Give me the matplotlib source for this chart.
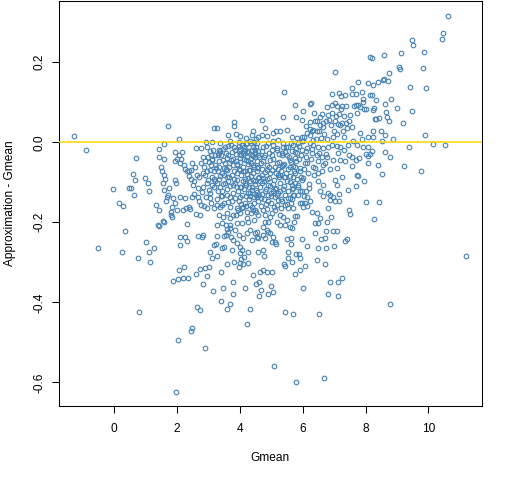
import matplotlib
matplotlib.use("Agg")
import matplotlib.pyplot as plt

plt.rcParams["font.family"] = ["Liberation Sans", "DejaVu Sans"]

# (Gmean, Approximation - Gmean), grouped by area

outer_left = [(-1.27, 0.015), (-0.89, -0.020), (0.70, -0.039), (-0.03, -0.118), (0.16, -0.152),
              (0.29, -0.158), (0.35, -0.222), (0.48, -0.115), (0.52, -0.115), (0.61, -0.080),
              (0.67, -0.095), (0.64, -0.133), (-0.51, -0.263), (0.25, -0.275), (0.76, -0.290),
              (0.80, -0.425), (1.01, -0.250), (1.11, -0.275), (1.15, -0.300), (1.27, -0.263)]

outer_bottom = [(2.48, -0.463), (2.45, -0.472), (2.04, -0.494), (2.90, -0.513), (1.97, -0.623),
                (4.24, -0.455), (2.90, -0.313), (2.74, -0.420), (3.76, -0.268)]

upper_right = [(10.64, 0.315), (10.48, 0.273), (10.45, 0.258), (9.49, 0.255), (9.52, 0.243),
               (8.15, 0.213), (8.22, 0.210), (8.60, 0.218), (9.14, 0.223), (9.87, 0.225),
               (7.04, 0.175), (9.06, 0.187), (9.09, 0.184), (8.76, 0.173), (9.84, 0.185),
               (7.77, 0.150), (8.09, 0.148), (8.25, 0.143), (8.40, 0.151), (8.55, 0.156),
               (8.60, 0.158), (8.73, 0.153), (9.43, 0.138), (9.94, 0.135), (5.41, 0.125),
               (7.56, 0.135), (7.89, 0.125), (8.14, 0.118), (8.20, 0.118), (6.94, 0.120),
               (7.15, 0.123), (7.21, 0.115), (7.36, 0.117), (7.56, 0.120), (7.70, 0.120),
               (8.82, 0.108), (8.63, 0.095), (9.01, 0.085), (9.49, 0.078), (8.34, 0.106),
               (7.91, 0.109), (7.93, 0.100), (6.26, 0.098), (6.24, 0.095), (5.76, 0.093),
               (6.77, 0.089), (6.94, 0.093), (7.02, 0.098), (7.10, 0.091), (7.25, 0.091),
               (7.38, 0.090), (7.63, 0.090), (7.70, 0.093), (7.76, 0.093), (7.82, 0.088),
               (7.96, 0.083), (8.02, 0.082), (8.24, 0.081), (8.26, 0.085), (8.29, 0.059),
               (8.33, 0.059), (8.42, 0.060), (8.65, 0.075), (8.68, 0.064), (8.74, 0.053),
               (9.19, 0.048), (9.90, 0.018), (9.39, -0.012), (10.16, -0.004), (10.54, -0.008),
               (9.24, -0.059), (9.77, -0.073), (8.79, -0.037), (8.63, -0.025), (8.54, -0.079),
               (8.41, -0.057), (8.89, 0.008), (8.50, 0.028), (8.63, 0.018), (8.54, 0.003),
               (8.24, 0.028), (8.23, 0.013), (8.09, 0.013), (8.15, -0.029), (8.09, -0.034),
               (8.08, -0.053), (8.03, -0.149), (8.44, -0.149), (8.28, -0.192), (7.48, -0.169),
               (7.50, -0.180), (7.96, -0.097), (7.76, -0.084), (7.72, -0.082), (7.71, -0.109),
               (7.58, -0.059)]

upper_left = [(1.72, 0.040), (3.18, 0.035), (3.28, 0.035), (3.82, 0.050), (3.82, 0.040),
              (2.05, 0.008), (3.63, 0.018), (3.87, 0.020), (4.01, 0.015), (4.21, 0.010),
              (4.40, 0.018), (4.43, 0.028), (4.50, 0.008), (4.59, 0.014), (2.91, 0.000),
              (3.12, 0.000), (1.59, -0.005), (3.70, 0.003), (3.98, 0.000), (4.22, -0.002),
              (4.32, 0.002), (4.54, -0.001), (2.61, -0.015), (2.75, -0.015), (2.95, -0.011),
              (3.32, -0.020), (3.47, -0.017), (3.82, -0.012), (3.97, -0.010), (4.07, -0.007),
              (4.21, -0.005), (4.35, -0.002), (4.45, 0.000), (4.43, -0.012), (4.00, -0.017),
              (4.13, -0.021), (4.27, -0.023), (4.48, -0.019), (1.43, -0.017), (1.92, -0.025),
              (2.17, -0.025), (2.07, -0.031), (1.59, -0.042), (1.42, -0.037), (1.99, -0.042),
              (2.14, -0.042), (1.93, -0.047), (2.84, -0.037), (2.97, -0.037), (3.07, -0.032),
              (3.11, -0.041), (3.30, -0.032), (3.37, -0.022), (3.33, -0.027), (3.56, -0.027),
              (3.63, -0.032), (3.74, -0.025), (3.87, -0.030), (3.97, -0.022), (4.11, -0.027),
              (4.24, -0.025), (4.39, -0.020), (4.52, -0.012), (3.58, -0.040), (3.79, -0.042),
              (4.00, -0.040), (4.22, -0.036), (4.43, -0.034), (4.59, -0.031), (2.09, -0.052),
              (2.23, -0.056), (2.25, -0.067), (2.38, -0.073), (2.56, -0.061), (2.76, -0.052),
              (2.89, -0.046), (3.03, -0.050), (3.11, -0.045), (3.21, -0.057), (3.33, -0.048),
              (3.45, -0.044), (1.48, -0.062), (1.53, -0.072), (1.57, -0.081), (2.30, -0.073),
              (2.43, -0.069), (2.38, -0.084), (2.44, -0.092), (2.70, -0.086), (2.84, -0.077),
              (2.96, -0.073), (3.05, -0.069), (3.18, -0.073), (3.31, -0.073), (3.42, -0.077),
              (3.49, -0.065), (3.58, -0.069), (3.66, -0.061), (3.79, -0.056), (3.90, -0.054),
              (4.00, -0.049), (4.14, -0.042), (4.26, -0.048), (4.35, -0.039), (4.48, -0.036),
              (4.41, -0.056), (4.54, -0.048), (4.59, -0.061), (4.32, -0.069), (4.16, -0.073),
              (4.00, -0.069), (3.90, -0.077), (3.74, -0.081), (3.58, -0.086), (3.37, -0.084),
              (1.60, -0.092), (1.56, -0.102), (1.75, -0.115), (1.59, -0.119), (1.72, -0.131),
              (0.99, -0.090), (1.08, -0.102), (1.12, -0.122), (1.92, -0.094), (1.97, -0.101),
              (2.54, -0.098), (2.52, -0.106), (2.68, -0.115), (2.84, -0.111), (2.94, -0.102),
              (3.10, -0.106), (3.21, -0.098), (3.37, -0.111), (3.53, -0.102), (3.63, -0.098),
              (3.79, -0.106), (3.90, -0.094), (4.00, -0.111), (4.16, -0.102), (4.27, -0.090),
              (4.38, -0.111), (4.48, -0.098), (4.59, -0.090), (1.67, -0.137), (1.88, -0.140),
              (2.09, -0.137), (2.25, -0.140), (2.46, -0.136), (2.68, -0.137), (3.05, -0.140),
              (3.42, -0.134), (3.69, -0.136), (4.00, -0.137), (4.32, -0.134), (4.54, -0.136)]

upper_mid = [(6.02, 0.077), (5.79, 0.063), (5.38, 0.063), (4.72, 0.055), (5.97, 0.056),
             (6.09, 0.040), (6.23, 0.050), (6.39, 0.054), (6.36, 0.073), (6.63, 0.070),
             (6.82, 0.068), (6.92, 0.073), (7.17, 0.070), (7.72, 0.073), (7.51, 0.069),
             (7.30, 0.066), (7.03, 0.052), (7.11, 0.046), (7.19, 0.044), (7.24, 0.048),
             (7.37, 0.049), (7.56, 0.039), (7.42, 0.035), (7.27, 0.029), (7.10, 0.021),
             (7.00, 0.029), (6.89, 0.044), (6.74, 0.052), (6.66, 0.048), (6.55, 0.044),
             (6.45, 0.052), (6.34, 0.031), (6.53, 0.029), (6.29, 0.027), (6.13, 0.023),
             (5.97, 0.014), (5.81, 0.010), (5.65, 0.014), (5.49, 0.031), (5.28, 0.027),
             (5.15, 0.029), (5.06, 0.023), (4.85, 0.016), (4.80, 0.035), (4.69, 0.019),
             (7.83, 0.024), (7.88, 0.008), (7.61, 0.002), (7.45, -0.006), (7.72, -0.006),
             (7.93, -0.012), (8.09, -0.012), (8.20, -0.021), (8.02, -0.029), (7.79, -0.040),
             (7.69, -0.044), (7.56, -0.036), (7.49, -0.031), (7.30, -0.019), (7.19, -0.011),
             (7.08, -0.009), (6.92, -0.006), (6.82, -0.011), (6.66, -0.015), (6.50, -0.011),
             (6.34, -0.006), (6.23, -0.002), (6.02, 0.002), (5.86, -0.002), (5.70, -0.006),
             (5.54, -0.011), (5.38, -0.002), (5.22, 0.006), (5.06, 0.002), (4.91, -0.002),
             (4.75, -0.011), (4.69, -0.023), (4.80, -0.031), (5.01, -0.019), (5.17, -0.015),
             (5.33, -0.027), (5.49, -0.031), (5.65, -0.023), (5.81, -0.027), (5.97, -0.019),
             (6.13, -0.015), (6.29, -0.027), (6.45, -0.031), (6.60, -0.036), (6.76, -0.036),
             (6.98, -0.044), (7.19, -0.044), (7.35, -0.048), (7.08, -0.065), (6.87, -0.067),
             (7.24, -0.086), (4.96, -0.044), (5.17, -0.052), (5.38, -0.056), (5.60, -0.044),
             (5.76, -0.061), (5.91, -0.073), (6.13, -0.052), (6.34, -0.061), (6.50, -0.077),
             (6.66, -0.056), (6.02, -0.090), (5.70, -0.086), (5.28, -0.081), (4.85, -0.069),
             (4.75, -0.090)]

lower_left = [(1.34, -0.156), (1.42, -0.169), (1.65, -0.148), (1.83, -0.161), (1.81, -0.175),
              (1.92, -0.152), (2.01, -0.169), (2.20, -0.169), (2.29, -0.165), (2.42, -0.167),
              (2.39, -0.161), (2.59, -0.179), (2.73, -0.181), (2.76, -0.156), (2.87, -0.159),
              (2.95, -0.165), (3.07, -0.152), (3.18, -0.165), (3.28, -0.156), (3.37, -0.161),
              (3.43, -0.156), (3.32, -0.181), (3.47, -0.186), (3.60, -0.177), (3.69, -0.190),
              (3.79, -0.181), (3.90, -0.165), (4.00, -0.177), (4.11, -0.161), (4.22, -0.173),
              (4.32, -0.156), (4.48, -0.169), (4.59, -0.181), (4.45, -0.194), (4.27, -0.198),
              (4.06, -0.202), (3.90, -0.202), (3.69, -0.206), (3.56, -0.206), (3.42, -0.201),
              (3.26, -0.206), (1.40, -0.206), (1.43, -0.210), (1.55, -0.196), (1.58, -0.199),
              (1.81, -0.181), (1.85, -0.186), (2.33, -0.204), (2.10, -0.237), (2.26, -0.237),
              (2.10, -0.257), (2.33, -0.247), (2.68, -0.234), (2.79, -0.236), (2.84, -0.232),
              (3.05, -0.275), (3.10, -0.289), (3.28, -0.284), (3.19, -0.257), (3.23, -0.255),
              (3.27, -0.235), (3.42, -0.265), (3.50, -0.262), (3.48, -0.235), (3.55, -0.232),
              (3.63, -0.223), (3.71, -0.236), (3.79, -0.244), (3.90, -0.252), (4.00, -0.261),
              (4.06, -0.269), (4.00, -0.277), (4.13, -0.286), (4.27, -0.273), (4.38, -0.244),
              (4.48, -0.227), (4.54, -0.236), (4.59, -0.240), (4.32, -0.219), (4.22, -0.227),
              (4.11, -0.240), (3.97, -0.231), (3.84, -0.219), (3.69, -0.215), (3.60, -0.217),
              (4.04, -0.292), (4.00, -0.302), (3.82, -0.300), (3.96, -0.311), (4.11, -0.304),
              (4.27, -0.302), (4.56, -0.225), (4.43, -0.331), (4.51, -0.353), (3.60, -0.305),
              (3.41, -0.325), (2.96, -0.335), (3.03, -0.311), (2.73, -0.317), (2.61, -0.330),
              (2.36, -0.340), (2.19, -0.340), (2.04, -0.342), (1.88, -0.347), (2.07, -0.320),
              (2.23, -0.312), (2.84, -0.355), (3.15, -0.372), (3.47, -0.365), (3.41, -0.397),
              (3.69, -0.405), (3.79, -0.380), (3.79, -0.350), (4.15, -0.365), (4.32, -0.417),
              (2.64, -0.412), (3.60, -0.417)]

lower_mid = [(7.04, -0.095), (7.08, -0.107), (7.17, -0.129), (7.17, -0.146), (7.02, -0.146),
             (6.87, -0.144), (6.87, -0.131), (6.96, -0.137), (6.82, -0.127), (6.66, -0.107),
             (6.50, -0.098), (6.55, -0.123), (6.66, -0.134), (6.82, -0.165), (6.90, -0.187),
             (6.76, -0.198), (6.50, -0.201), (6.39, -0.201), (6.55, -0.190), (6.47, -0.177),
             (6.31, -0.173), (6.23, -0.148), (6.13, -0.159), (6.07, -0.152), (5.97, -0.152),
             (5.91, -0.152), (6.00, -0.162), (6.15, -0.136), (6.21, -0.115), (6.09, -0.123),
             (6.04, -0.134), (5.97, -0.123), (5.86, -0.107), (5.76, -0.102), (5.70, -0.115),
             (5.70, -0.131), (5.60, -0.140), (5.62, -0.152), (5.68, -0.165), (5.54, -0.165),
             (5.44, -0.156), (5.33, -0.148), (5.22, -0.144), (5.17, -0.156), (5.12, -0.169),
             (5.01, -0.177), (4.96, -0.186), (4.91, -0.198), (4.80, -0.181), (4.80, -0.198),
             (4.75, -0.211), (4.85, -0.219), (4.96, -0.227), (5.06, -0.236), (5.12, -0.248),
             (4.91, -0.223), (4.75, -0.231), (4.80, -0.240), (5.76, -0.184), (5.81, -0.184),
             (5.72, -0.198), (5.49, -0.194), (5.44, -0.206), (5.28, -0.206), (5.17, -0.198),
             (5.28, -0.181), (5.38, -0.186), (5.60, -0.211), (5.67, -0.215), (5.99, -0.242),
             (5.64, -0.240), (5.51, -0.242), (6.39, -0.227), (6.74, -0.222), (6.98, -0.222),
             (7.10, -0.222), (6.59, -0.242), (6.72, -0.240), (7.45, -0.120), (7.40, -0.242)]

lower_far = [(11.21, -0.285), (8.79, -0.405), (6.69, -0.588), (5.80, -0.600), (5.10, -0.558),
             (5.45, -0.425), (5.70, -0.428), (6.53, -0.430), (6.82, -0.380), (7.13, -0.385),
             (7.26, -0.338), (7.13, -0.350), (6.88, -0.350), (6.02, -0.363), (6.72, -0.305),
             (6.47, -0.293), (6.08, -0.310), (5.92, -0.320), (5.76, -0.330), (7.01, -0.260),
             (6.75, -0.265), (6.50, -0.265), (6.15, -0.258), (7.36, -0.247), (5.41, -0.305),
             (5.43, -0.310), (5.54, -0.273), (5.54, -0.290), (5.67, -0.298), (5.80, -0.278),
             (5.89, -0.278), (5.92, -0.290), (5.64, -0.253), (5.16, -0.255), (5.03, -0.250),
             (4.75, -0.270), (4.78, -0.283), (4.59, -0.273), (4.75, -0.318), (4.65, -0.325),
             (4.87, -0.325), (5.03, -0.323), (4.62, -0.350), (5.00, -0.358), (5.06, -0.373),
             (4.90, -0.380), (4.68, -0.370), (4.62, -0.385)]

# the packed middle, where single circles can't be told apart
core = [(3.52, -0.052), (3.58, -0.118), (3.61, -0.149), (3.66, -0.087), (3.70, -0.162),
        (3.73, -0.044), (3.77, -0.128), (3.80, -0.071), (3.84, -0.139), (3.86, -0.101),
        (3.89, -0.181), (3.92, -0.058), (3.95, -0.122), (3.98, -0.147), (4.02, -0.083),
        (4.04, -0.033), (4.06, -0.131), (4.08, -0.165), (4.10, -0.062), (4.12, -0.118),
        (4.15, -0.091), (4.17, -0.151), (4.19, -0.044), (4.21, -0.106), (4.24, -0.188),
        (4.26, -0.127), (4.28, -0.069), (4.30, -0.142), (4.33, -0.096), (4.35, -0.053),
        (4.37, -0.161), (4.40, -0.119), (4.42, -0.078), (4.44, -0.137), (4.47, -0.027),
        (4.49, -0.104), (4.51, -0.173), (4.53, -0.064), (4.56, -0.124), (4.58, -0.146),
        (4.60, -0.086), (4.62, -0.038), (4.65, -0.112), (4.67, -0.158), (4.69, -0.067),
        (4.71, -0.129), (4.73, -0.048), (4.76, -0.098), (4.78, -0.142), (4.80, -0.075),
        (4.83, -0.117), (4.85, -0.166), (4.87, -0.056), (4.90, -0.132), (4.92, -0.089),
        (4.94, -0.028), (4.97, -0.109), (4.99, -0.151), (5.01, -0.070), (5.04, -0.123),
        (5.06, -0.041), (5.08, -0.095), (5.11, -0.137), (5.13, -0.062), (5.15, -0.114),
        (5.18, -0.019), (5.20, -0.083), (5.22, -0.126), (5.25, -0.049), (5.27, -0.102),
        (5.30, -0.165), (5.32, -0.072), (5.34, -0.033), (5.37, -0.118), (5.39, -0.088),
        (5.42, -0.054), (5.44, -0.131), (5.47, -0.011), (5.49, -0.097), (5.52, -0.066),
        (5.54, -0.121), (5.57, -0.038), (5.60, -0.084), (5.62, -0.003), (5.65, -0.107),
        (5.68, -0.059), (5.71, -0.131), (5.74, -0.024), (5.77, -0.078), (5.80, -0.046),
        (5.84, -0.112), (5.87, -0.009), (5.91, -0.064), (5.95, -0.033), (5.99, -0.094),
        (6.03, 0.012), (6.07, -0.051), (6.12, -0.021), (6.17, -0.077), (6.22, 0.019),
        (6.27, -0.042), (6.33, 0.006), (6.39, -0.064), (6.45, 0.027), (6.52, -0.026),
        (6.58, 0.011), (6.65, 0.038), (6.71, -0.051), (6.78, 0.008), (3.45, -0.105),
        (3.40, -0.135), (3.35, -0.092), (3.30, -0.121), (3.24, -0.064), (3.17, -0.113),
        (3.12, -0.086), (3.06, -0.127), (2.99, -0.094), (2.92, -0.138), (2.85, -0.061),
        (2.78, -0.124), (2.70, -0.147), (2.63, -0.083), (2.55, -0.129), (2.47, -0.053)]

core_more = [(3.83, -0.019), (3.91, -0.112), (3.96, -0.066), (4.03, -0.154), (4.09, -0.098),
             (4.13, -0.011), (4.18, -0.134), (4.23, -0.079), (4.29, -0.113), (4.34, -0.176),
             (4.38, -0.031), (4.43, -0.094), (4.46, -0.152), (4.52, -0.119), (4.55, -0.072),
             (4.61, -0.131), (4.66, -0.051), (4.70, -0.102), (4.74, -0.169), (4.79, -0.121),
             (4.82, -0.009), (4.86, -0.092), (4.89, -0.148), (4.93, -0.061), (4.98, -0.127),
             (5.02, -0.031), (5.05, -0.104), (5.09, -0.162), (5.14, -0.077), (5.19, -0.131),
             (5.23, -0.029), (5.26, -0.088), (5.31, -0.142), (5.35, -0.059), (5.40, -0.109),
             (5.45, -0.024), (5.48, -0.076), (5.53, -0.139), (5.58, -0.099), (5.63, -0.049),
             (5.66, -0.142), (5.72, -0.071), (5.78, -0.014), (5.82, -0.092), (5.89, -0.041),
             (5.93, -0.123), (5.98, 0.004), (6.05, -0.068), (6.11, -0.036), (6.19, -0.104),
             (6.24, 0.034), (6.31, -0.018), (6.37, -0.083), (6.43, 0.009), (6.49, -0.048),
             (6.56, 0.062), (6.61, -0.071), (6.69, 0.021), (6.75, -0.029), (6.85, 0.056),
             (6.95, 0.012), (7.05, 0.065), (7.13, -0.028), (7.22, 0.083), (7.33, 0.014),
             (7.46, 0.054), (3.62, -0.009), (3.55, -0.068), (3.48, -0.151), (3.39, -0.033),
             (3.27, -0.141), (3.14, -0.019), (3.01, -0.119), (2.88, -0.083),
             (3.05, -0.021), (3.09, -0.058), (3.16, -0.093), (3.22, -0.031), (3.26, -0.103),
             (3.34, -0.062), (3.38, -0.001), (3.44, -0.123), (3.51, -0.081), (3.54, -0.013),
             (3.59, -0.131), (3.64, -0.052), (3.68, -0.109), (3.72, -0.008), (3.76, -0.147),
             (3.81, -0.091), (3.88, -0.047), (3.93, -0.168), (3.99, -0.029), (4.05, -0.113),
             (4.11, -0.071), (4.16, -0.019), (4.20, -0.158), (4.25, -0.054), (4.31, -0.127),
             (4.36, -0.084), (4.41, -0.168), (4.46, -0.061), (4.50, -0.131), (4.57, -0.022),
             (4.63, -0.097), (4.68, -0.139), (4.72, -0.083), (4.77, -0.036), (4.84, -0.154),
             (4.88, -0.107), (4.95, -0.078), (5.00, -0.134), (5.07, -0.008), (5.12, -0.118),
             (5.21, -0.067), (5.29, -0.121), (5.36, -0.013), (5.43, -0.086), (5.51, -0.154),
             (5.59, -0.061), (5.67, -0.117), (5.75, -0.039), (5.85, -0.132), (5.94, -0.086)]

groups = [outer_left, outer_bottom, upper_right, upper_left, upper_mid,
          lower_left, lower_mid, lower_far, core, core_more]
gmean = [p[0] for g in groups for p in g]
approx_diff = [p[1] for g in groups for p in g]

x_ticks = [0, 2, 4, 6, 8, 10]
y_ticks = [-0.6, -0.4, -0.2, 0.0, 0.2]
y_tick_labels = ["-0.6", "-0.4", "-0.2", "0.0", "0.2"]


fig = plt.figure(figsize=(5.12, 4.8), dpi=100)
ax = fig.add_axes([59 / 512, 1 - 406 / 480, (481.7 - 59) / 512, 405 / 480])

ax.plot(gmean, approx_diff, linestyle="none", marker="o", ms=3.3,
        mfc="none", mec="#4682B4", mew=0.8, zorder=2)
ax.axhline(0, color="#FFD700", lw=1.1, zorder=3)

ax.set_xlim(-1.76, 11.70)
ax.set_ylim(-0.659, 0.353)
ax.set_xticks(x_ticks)
ax.set_yticks(y_ticks)
ax.set_yticklabels(y_tick_labels, rotation=90, va="center")

ax.tick_params(direction="out", length=5, width=0.75, labelsize=8.6, colors="black")
ax.tick_params(axis="x", pad=7)
ax.tick_params(axis="y", pad=5)
for s in ax.spines.values():
    s.set_linewidth(0.75)

fig.text(270.4 / 512, 1 - 458 / 480, "Gmean", ha="center", va="center", fontsize=8.6)
fig.text(10 / 512, 1 - 203.5 / 480, "Approximation - Gmean", ha="center", va="center",
         rotation=90, fontsize=8.6)

fig.savefig("out.png", dpi=100)
